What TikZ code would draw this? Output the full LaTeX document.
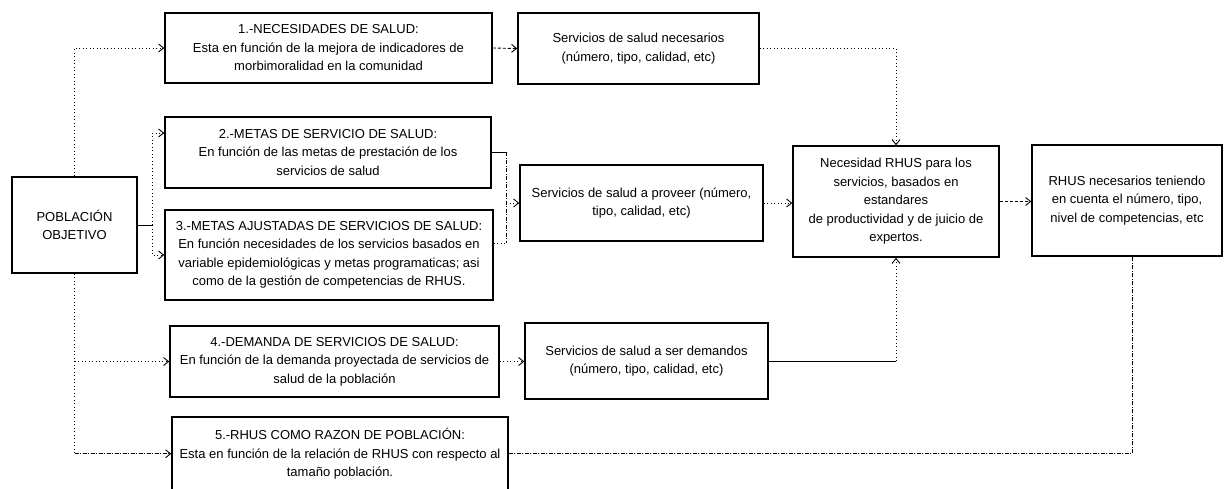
\documentclass[tikz,border=0pt]{standalone}
\usepackage{fontspec}
\setmainfont{Liberation Sans}
\usetikzlibrary{arrows.meta}
\begin{document}
\begin{tikzpicture}[x=1pt,y=-1pt,
  box/.style={draw,line width=1.5pt,align=center,inner sep=0pt,font=\fontsize{13}{18.5}\selectfont},
  dots/.style={line width=0.9pt,dash pattern=on 1pt off 2.5pt},
  dashd/.style={line width=0.9pt,dash pattern=on 3pt off 2pt},
  dashdot/.style={line width=0.9pt,dash pattern=on 4pt off 1.5pt on 1pt off 1.5pt},
  solidc/.style={line width=0.9pt},
  arr/.style={-{Straight Barb[length=5pt,width=8pt]}}]
\useasboundingbox (0,0) rectangle (1225,489);

% nodes
\node[box,minimum width=125pt,minimum height=96pt] (pob) at (74.5,225) {POBLACIÓN\\OBJETIVO};
\node[box,minimum width=327pt,minimum height=70pt] (b1) at (328.5,48) {1.-NECESIDADES DE SALUD:\\Esta en función de la mejora de indicadores de\\morbimoralidad en la comunidad};
\node[box,minimum width=241pt,minimum height=71pt] (s1) at (638.5,48.5) {Servicios de salud necesarios\\(número, tipo, calidad, etc)};
\node[box,minimum width=326pt,minimum height=71pt] (b2) at (328,152.5) {2.-METAS DE SERVICIO DE SALUD:\\En función de las metas de prestación de los\\servicios de salud};
\node[box,minimum width=328pt,minimum height=90pt] (b3) at (329,255) {3.-METAS AJUSTADAS DE SERVICIOS DE SALUD:\\En función necesidades de los servicios basados en\\variable epidemiológicas y metas programaticas; asi\\como de la gestión de competencias de RHUS.};
\node[box,minimum width=243pt,minimum height=76pt] (s2) at (641.5,203) {Servicios de salud a proveer (número,\\tipo, calidad, etc)};
\node[box,minimum width=206pt,minimum height=111pt] (nec) at (896,201.5) {Necesidad RHUS para los\\servicios, basados en\\estandares\\de productividad y de juicio de\\expertos.};
\node[box,minimum width=190pt,minimum height=111pt] (rn) at (1127,200.5) {RHUS necesarios teniendo\\en cuenta el número, tipo,\\nivel de competencias, etc};
\node[box,minimum width=329pt,minimum height=71pt] (b4) at (334.5,361.5) {4.-DEMANDA DE SERVICIOS DE SALUD:\\En función de la demanda proyectada de servicios de\\salud de la población};
\node[box,minimum width=243pt,minimum height=76pt] (s3) at (646.5,361) {Servicios de salud a ser demandos\\(número, tipo, calidad, etc)};
\node[box,minimum width=336pt,minimum height=73.5pt] (b5) at (340,453.75) {5.-RHUS COMO RAZON DE POBLACIÓN:\\Esta en función de la relación de RHUS con respecto al\\tamaño población.};

% junction coordinates
\coordinate (j1) at (152,225);
\coordinate (j2) at (506,152.5);
\coordinate (j3) at (506,243);

% connectors from POBLACION
\draw[dots,arr] (pob.north) |- (b1.west);
\draw[solidc] (pob.east) -- (j1);
\draw[dots] (j1) -- (152,133);
\draw[dots,arr] (152,133) -- (b2.west |- 0,133);
\draw[dots,arr] (j1) |- (b3.west);
\draw[dots] (pob.south) -- (pob.south |- b5.west);
\draw[dots,arr] (pob.south |- b4.west) -- (b4.west);
\draw[dashdot,arr] (pob.south |- b5.west) -- (b5.west);

% row 1
\draw[dashd,arr] (b1.east) -- (s1.west);
\draw[dots,arr] (s1.east) -| (nec.north);

% rows 2-3
\draw[solidc] (b2.east) -- (j2);
\draw[dashdot] (j2) -- (j3);
\draw[dots] (b3.east |- j3) -- (j3);
\draw[dots,arr] (j2 |- s2.west) -- (s2.west);
\draw[dots,arr] (s2.east) -- (s2.east -| nec.west);
\draw[dashd,arr] (nec.east) -- (nec.east -| rn.west);

% row 4
\draw[dots,arr] (b4.east) -- (b4.east -| s3.west);
\draw[solidc] (s3.east) -- (s3.east -| nec.south);
\draw[dots,arr] (s3.east -| nec.south) -- (nec.south);

% row 5
\draw[dashdot] (b5.east) -| ([xshift=5pt]rn.south);
\end{tikzpicture}
\end{document}
